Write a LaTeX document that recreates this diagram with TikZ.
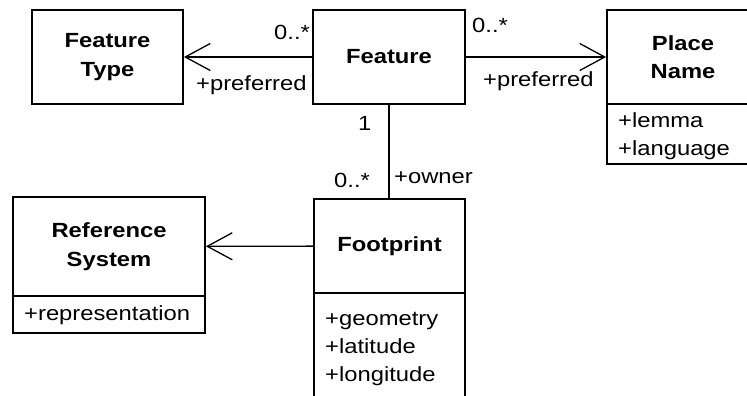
\documentclass[tikz,border=0pt]{standalone}
\usepackage{fontspec}
\setmainfont{Liberation Sans}[FakeStretch=1.16]
\usetikzlibrary{arrows.meta}
\tikzset{
  classhead/.style={draw, line width=1.8pt, inner sep=0pt, align=center,
    font=\bfseries\fontsize{20.5}{28.5}\selectfont},
  classcomp/.style={draw, line width=1.8pt, inner sep=0pt},
  attrline/.style={anchor=base west, inner sep=0pt, font=\fontsize{20.5}{24}\selectfont},
  rolelabel/.style={anchor=base west, inner sep=0pt, font=\fontsize{20.5}{24}\selectfont},
  assoc/.style={line width=1.3pt},
  navassoc/.style={assoc, -{Straight Barb[length=25pt,width=27pt,line width=1.3pt]}},
}
\begin{document}
\begin{tikzpicture}[x=1pt,y=-1pt]
  \useasboundingbox (0,0) rectangle (747,396);
  \clip (0,0) rectangle (747,396);

  % class headers
  \node[classhead, minimum width=151pt, minimum height=94pt] (ftype) at (107.5,57) {Feature\\Type};
  \node[classhead, minimum width=152pt, minimum height=94pt] (feature) at (389,57) {Feature};
  \node[classhead, minimum width=152pt, minimum height=94pt] (pname) at (683,57) {Place\\Name};
  \node[classhead, minimum width=192pt, minimum height=99pt] (refsys) at (109,246.5) {Reference\\System};
  \node[classhead, minimum width=151pt, minimum height=94pt] (foot) at (389.5,246) {Footprint};

  % attribute compartments
  \node[classcomp, minimum width=152pt, minimum height=60pt] (pnameattr) at (683,134) {};
  \node[classcomp, minimum width=192pt, minimum height=37pt] (refsysattr) at (109,314.5) {};
  \node[classcomp, minimum width=151pt, minimum height=127pt] (footattr) at (389.5,356.5) {};

  \node[attrline] (lemma) at (618,127.5) {+lemma};
  \node[attrline] (language) at (618,155) {+language};
  \node[attrline] (repr) at (24,320) {+representation};
  \node[attrline] (geom) at (325,325) {+geometry};
  \node[attrline] (lat) at (325,353) {+latitude};
  \node[attrline] (lon) at (325,381) {+longitude};

  % associations
  \draw[navassoc] (feature) -- (ftype);
  \draw[navassoc] (feature) -- (pname);
  \draw[navassoc] (foot) -- (refsys);
  \draw[assoc] (feature.south) -- (feature.south |- foot.north);

  % role names and multiplicities
  \node[rolelabel] (m1) at (274,40) {0..*};
  \node[rolelabel] (r1) at (196,90) {+preferred};
  \node[rolelabel] (m2) at (472,33) {0..*};
  \node[rolelabel] (r2) at (483,87) {+preferred};
  \node[rolelabel] (m3) at (358,130) {1};
  \node[rolelabel] (m4) at (334,187) {0..*};
  \node[rolelabel] (r3) at (394,183) {+owner};
\end{tikzpicture}
\end{document}
